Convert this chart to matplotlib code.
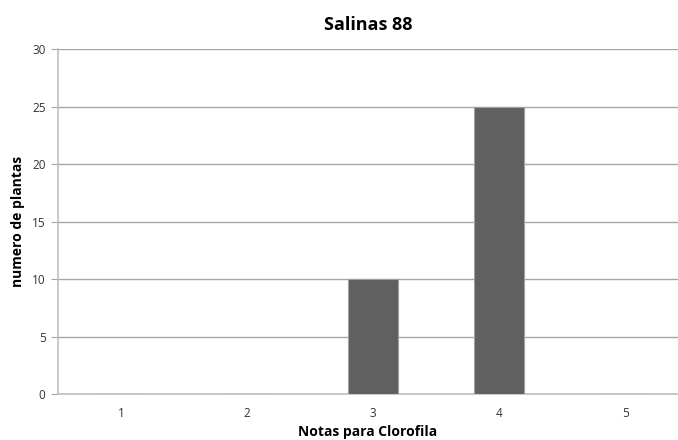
import matplotlib
matplotlib.use('Agg')
import matplotlib.pyplot as plt
import numpy as np

plt.rcParams['font.family'] = ['Open Sans', 'DejaVu Sans']

# datos
notas = [1, 2, 3, 4, 5]
plantas = [0, 0, 10, 25, 0]
yticks = [0, 5, 10, 15, 20, 25, 30]

fig = plt.figure(figsize=(6.78, 4.40), dpi=100)
ax = fig.add_axes([58/678, 1 - 394/440, 1 - 58/678, (394 - 49)/440])

ax.bar(notas, plantas, width=0.4, color='#606060', edgecolor='#a0a0a0', linewidth=0.8, zorder=3)

ax.set_xlim(0.5, 5.42)
ax.set_ylim(0, 30)
ax.set_yticks(yticks)
ax.set_xticks(notas)
ax.yaxis.grid(True, color='#a6a6a6', linewidth=1.0, zorder=0)
ax.tick_params(axis='x', length=0, labelsize=8.5, colors='#333333', pad=9)
ax.tick_params(axis='y', length=5, color='#a6a6a6', labelsize=8.5, labelcolor='#333333', pad=4)
for s in ['top', 'right']:
    ax.spines[s].set_visible(False)
ax.spines['left'].set_color('#bfbfbf')
ax.spines['bottom'].set_color('#bfbfbf')
ax.spines['left'].set_linewidth(1.2)
ax.spines['bottom'].set_linewidth(1.2)

ax.set_title('Salinas 88', fontsize=13, fontweight='bold', pad=14)
ax.set_xlabel('Notas para Clorofila', fontsize=10, fontweight='bold', labelpad=4)
ax.set_ylabel('numero de plantas', fontsize=10, fontweight='bold', labelpad=5)

fig.savefig('out.png', dpi=100)
